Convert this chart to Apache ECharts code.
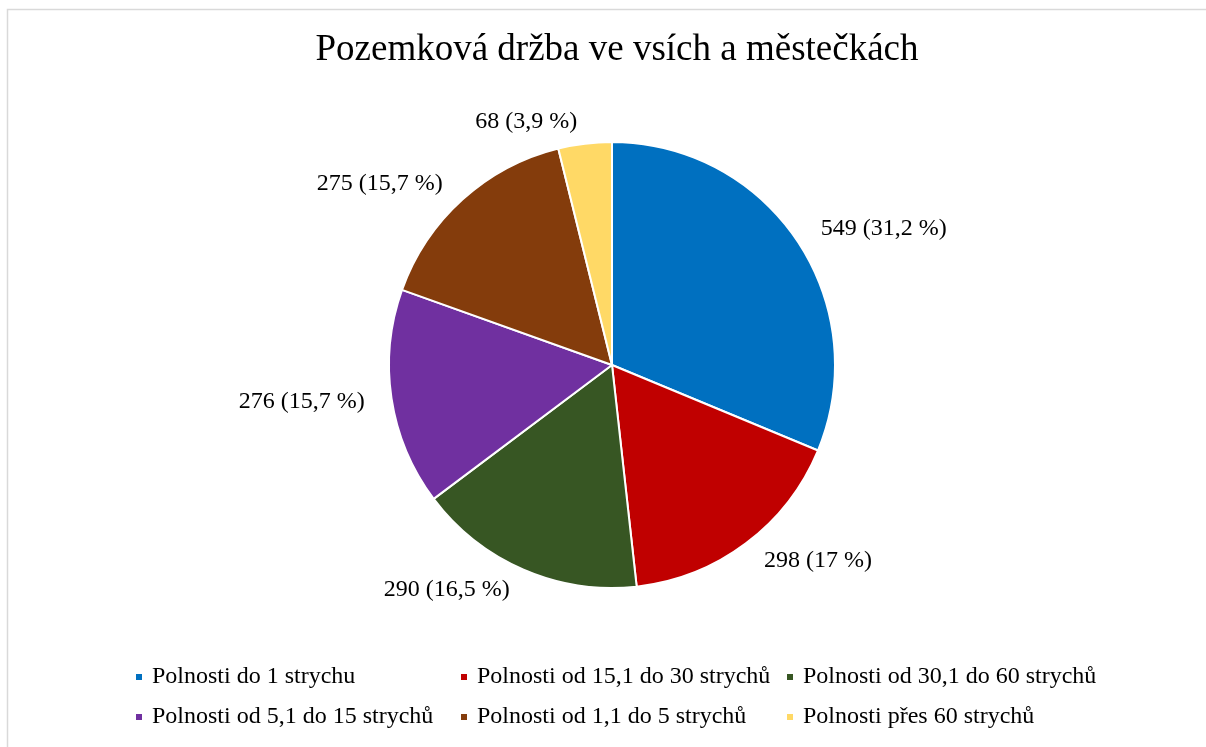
<!DOCTYPE html>
<html>
<head>
<meta charset="utf-8">
<script src="https://cdn.jsdelivr.net/npm/echarts@6/dist/echarts.min.js"></script>
<style>
  html, body { margin: 0; padding: 0; background: #fff; }
  #main { width: 1206px; height: 747px; }
</style>
</head>
<body>
<div id="main"></div>
<script>
var categories = [
  'Polnosti do 1 strychu',
  'Polnosti od 15,1 do 30 strychů',
  'Polnosti od 30,1 do 60 strychů',
  'Polnosti od 5,1 do 15 strychů',
  'Polnosti od 1,1 do 5 strychů',
  'Polnosti přes 60 strychů'
];
var values = [549, 298, 290, 276, 275, 68];
var percentLabels = ['31,2', '17', '16,5', '15,7', '15,7', '3,9'];
var colors = ['#0070c0', '#c00000', '#375623', '#7030a0', '#843c0c', '#ffd966'];

var font = '"Liberation Serif", "Times New Roman", serif';

var data = categories.map(function (c, i) {
  return { name: c, value: values[i], pct: percentLabels[i], itemStyle: { color: colors[i] } };
});

function legendCol(items, left) {
  return {
    orient: 'vertical',
    left: left,
    top: 660,
    itemGap: 16,
    itemWidth: 8,
    itemHeight: 8,
    icon: 'rect',
    selectedMode: false,
    data: items,
    textStyle: { fontFamily: font, fontSize: 24, color: '#000', padding: [0, 0, 0, 4] }
  };
}

var myChart = echarts.init(document.getElementById('main'));

var option = {
  backgroundColor: '#fff',
  color: colors,
  title: {
    text: 'Pozemková držba ve vsích a městečkách',
    left: 612,
    textAlign: 'center',
    top: 27,
    textStyle: { fontFamily: font, fontSize: 37, fontWeight: 'normal', color: '#000' }
  },
  graphic: [{
    type: 'rect',
    shape: { x: 7.5, y: 9.5, width: 1210, height: 760 },
    style: { fill: 'none', stroke: '#d9d9d9', lineWidth: 1.5 },
    silent: true
  }],
  legend: [
    legendCol([categories[0], categories[3]], 129),
    legendCol([categories[1], categories[4]], 454),
    legendCol([categories[2], categories[5]], 780)
  ],
  series: [{
    type: 'pie',
    center: [612, 365],
    radius: [0, 223],
    startAngle: 90,
    clockwise: true,
    avoidLabelOverlap: false,
    itemStyle: { borderColor: '#fff', borderWidth: 2 },
    label: {
      show: true,
      position: 'outside',
      formatter: function (p) { return p.value + ' (' + p.data.pct + ' %)'; },
      fontFamily: font,
      fontSize: 24,
      color: '#000'
    },
    labelLine: { show: false, length: 22, length2: 0 },
    emphasis: { disabled: true },
    data: data
  }]
};

myChart.setOption(option);
</script>
</body>
</html>
